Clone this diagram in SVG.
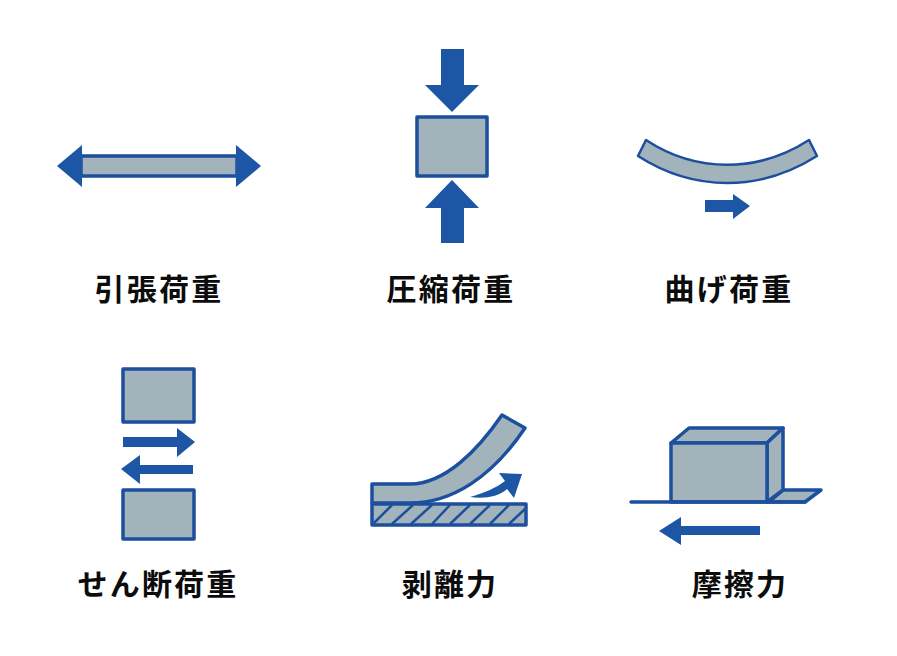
<svg xmlns="http://www.w3.org/2000/svg" width="897" height="656" viewBox="0 0 897 656">
<style>
.b{fill:#a3b3bb;stroke:#1d4f9f;stroke-width:3.5;stroke-linejoin:round}
.a{fill:#1d56a5}
.l{stroke:#1d4f9f;fill:none;stroke-width:3.5;stroke-linecap:round;stroke-linejoin:round}
.h{stroke:#1d4f9f;stroke-width:2.5;fill:none}
.t{font-family:"Noto Sans CJK JP","Noto Sans CJK SC",sans-serif;font-weight:700;font-size:30px;fill:#0c0c0c;text-anchor:middle;letter-spacing:2.2px}
</style>
<rect width="897" height="656" fill="#fff"/>
<g id="tension">
<rect class="b" x="81" y="156" width="156" height="20"/>
<path class="a" d="M82 145V187L57 166ZM236 145V187L261 166Z"/>
<text class="t" x="159" y="300">引張荷重</text>
</g>
<g id="compression">
<rect class="b" x="417" y="117" width="70" height="59"/>
<path class="a" d="M441 49H464V85H479L452 112L425 85H441ZM441 243H464V208H479L452 180L425 208H441Z"/>
<text class="t" x="451" y="300">圧縮荷重</text>
</g>
<g id="bending">
<path class="b" style="stroke-width:2.5" d="M646 140C696 173 758 173 809 140L817 156C760 192 694 192 638 156Z"/>
<path class="a" d="M705 200H733V194L750 206L733 219V212H705Z"/>
<text class="t" x="729" y="300">曲げ荷重</text>
</g>
<g id="shear">
<rect class="b" x="123" y="369" width="71" height="53"/>
<rect class="b" x="123" y="490" width="71" height="49"/>
<path class="a" d="M123 437H177V428L195 442L177 457V447H123ZM193 465H140V455L121 469L140 484V474H193Z"/>
<text class="t" x="158" y="595">せん断荷重</text>
</g>
<g id="peel">
<rect class="b" x="372" y="504" width="154" height="21"/>
<path class="h" d="M374 523L392 505M392 524L413 505M411 524L432 505M432 524L450 505M450 524L470 505M470 524L490 505M490 524L509 505M509 524L525 509"/>
<path class="b" d="M372 484H410C445 484 478 450 502 415L525 428C492 477 452 503 410 503H372Z"/>
<path class="a" d="M470 497C484 493 496 488 505 481L499 473L522 474L514 498L507 489C498 497 484 499 470 497Z"/>
<text class="t" x="450" y="595">剥離力</text>
</g>
<g id="friction">
<path class="b" d="M769 502L783 490H821L805 502Z"/>
<path class="b" d="M671 443L689 428H783L767 443Z"/>
<path class="b" d="M767 443L783 428V490L767 502Z"/>
<rect class="b" x="671" y="443" width="96" height="59"/>
<path class="l" d="M631 502H805"/>
<path class="a" d="M760 526H681V517L659 531L681 545V535H760Z"/>
<text class="t" x="740" y="595">摩擦力</text>
</g>
</svg>
